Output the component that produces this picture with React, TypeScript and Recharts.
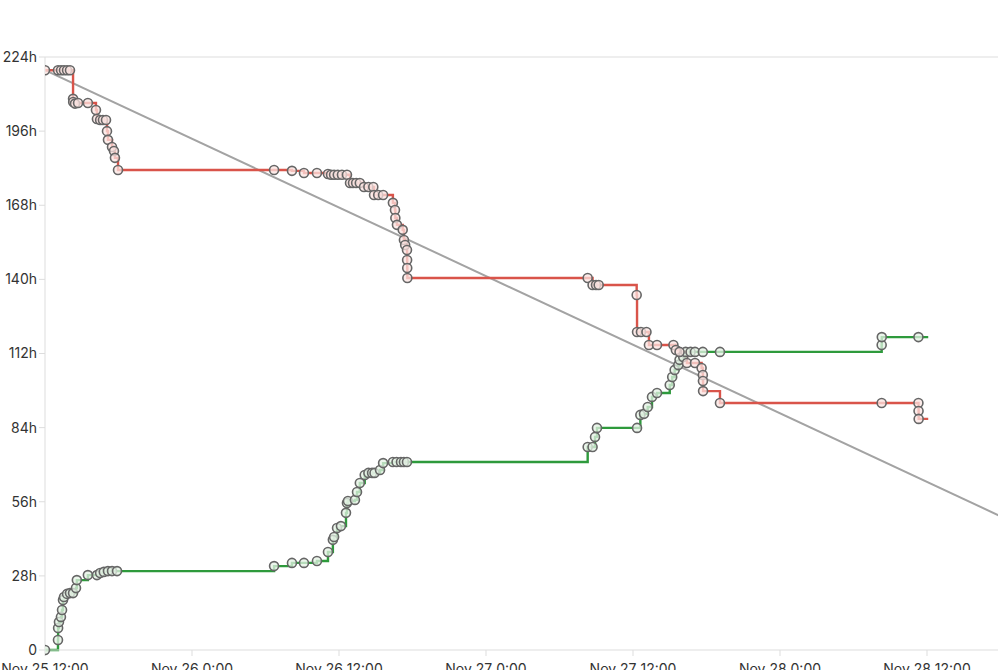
import React from 'react';
import { LineChart, Line, XAxis, YAxis, ReferenceLine } from 'recharts';

// hours since Nov 25 12:00
const remainingTimes = [
  0, 1.06, 1.31, 1.55, 1.8, 2.04, 2.29, 2.3, 2.45, 2.7, 3.5, 4.16, 4.24, 4.5, 4.73, 4.98, 5.06, 5.14, 5.47, 5.63, 5.71, 5.96,
  18.7, 20.16, 21.14, 22.2, 23.1, 23.35, 23.6, 23.9, 24.24, 24.65, 24.9, 25.14, 25.4, 25.7, 26.04, 26.4, 26.8, 26.86, 27.2, 27.6,
  28.4, 28.57, 28.6, 28.73, 29.2, 29.3, 29.4, 29.55, 29.56, 29.57, 29.58,
  44.3, 44.7, 44.98, 45.2, 48.3, 48.33, 48.65, 49.1, 49.3, 49.96, 51.3,
  51.5, 51.8, 52.4, 53.06, 53.6, 53.7, 53.71, 53.72, 55.1, 68.3, 71.3, 71.31, 71.32, 72.1,
];
const remainingHours = [
  219, 219, 219, 219, 219, 219, 208.2, 207, 206.4, 206.6, 206.6, 204, 200.6, 200.2, 200.2, 200.2, 196, 192.7, 190, 188.5, 185.9, 181.3,
  181.3, 181, 180.2, 180.2, 179.8, 179.5, 179.5, 179.5, 179.5, 179.5, 176.4, 176.4, 176.4, 176.4, 174.9, 174.9, 174.9, 171.9, 171.9, 171.9,
  168.9, 166.2, 163.2, 160.6, 158.7, 154.9, 153, 151.1, 147.3, 144.3, 140.5,
  140.5, 137.9, 137.9, 137.9, 134.1, 120.1, 120.1, 120.1, 115.2, 115.2, 115.2,
  113.3, 112.6, 108.4, 108.4, 106.5, 103.9, 101.6, 97.8, 93.3, 93.3, 93.3, 90.3, 87.3, 87.3,
];

const doneTimes = [
  0, 1.06, 1.07, 1.14, 1.3, 1.39, 1.47, 1.55, 1.8, 2.04, 2.29, 2.53, 2.6, 3.5, 4.24, 4.5, 4.8, 5.14, 5.47, 5.88,
  18.7, 20.16, 21.14, 22.2, 23.1, 23.5, 23.6, 23.84, 24.16, 24.57, 24.65, 24.73, 25.3, 25.47, 25.7, 26.1, 26.4, 26.7, 26.9, 27.35, 27.6,
  28.4, 28.7, 29.06, 29.3, 29.55,
  44.3, 44.7, 44.9, 45.06, 48.33, 48.6, 48.9, 49.2, 49.55, 49.96,
  51.0, 51.2, 51.4, 51.7, 51.8, 52.1, 52.3, 52.7, 53.06, 53.7, 55.1, 68.3, 68.31, 71.3, 72.1,
];
const doneHours = [
  0, 3.8, 8.3, 10.6, 12.5, 15.1, 18.9, 20, 21.2, 21.5, 21.5, 23.4, 26.4, 28.3, 28.3, 29.1, 29.5, 29.8, 29.8, 29.8,
  31.7, 32.9, 32.9, 33.6, 37, 41.6, 42.7, 46.1, 46.8, 51.8, 55.5, 56.3, 56.7, 59.7, 63.1, 66.1, 66.9, 66.9, 66.9, 68, 70.6,
  71, 71, 71, 71, 71,
  76.7, 76.7, 80.5, 83.9, 83.9, 88.8, 89.2, 91.8, 95.6, 97.1,
  100.1, 103.1, 105.8, 107.7, 109.6, 110.7, 112.6, 112.6, 112.6, 112.6, 112.6, 115.2, 118.2, 118.2, 118.2,
];

const idealTimes = [0, 101.4];
const idealHours = [219, 0];

const xTicks = [0, 12, 24, 36, 48, 60, 72];
const xTickLabels = ['Nov 25 12:00', 'Nov 26 0:00', 'Nov 26 12:00', 'Nov 27 0:00', 'Nov 27 12:00', 'Nov 28 0:00', 'Nov 28 12:00'];
const yTicks = [0, 28, 56, 84, 112, 140, 168, 196, 224];

const remaining = remainingTimes.map((t, i) => ({ t, v: remainingHours[i] }));
const done = doneTimes.map((t, i) => ({ t, v: doneHours[i] }));
const ideal = idealTimes.map((t, i) => ({ t, v: idealHours[i] }));

// last point is "now": line only, no marker
const makeDot = (fill: string, len: number) => (props: any) => {
  const { cx, cy, index } = props;
  if (index === len - 1) return <g key={`d-${index}`} />;
  return <circle key={`d-${index}`} cx={cx} cy={cy} r={4.5} fill={fill} fillOpacity={0.75} stroke="#666" strokeWidth={1.6} />;
};

const tickStyle = { fontFamily: 'Inter, sans-serif', fontSize: 14, fill: '#333' };

export default function App() {
  return (
    <div style={{ position: 'absolute', left: 0, top: 0, width: 998, height: 670, overflow: 'hidden', background: '#fff' }}>
      <LineChart width={1074} height={680} margin={{ top: 57, right: 0, bottom: 0, left: 0 }}>
        <XAxis
          type="number"
          dataKey="t"
          domain={[0, 84]}
          allowDataOverflow
          ticks={xTicks}
          tickFormatter={(v: number) => xTickLabels[xTicks.indexOf(v)] ?? ''}
          tick={tickStyle}
          tickMargin={8}
          stroke="#ddd"
          height={30}
        />
        <YAxis
          type="number"
          domain={[0, 224]}
          ticks={yTicks}
          tickFormatter={(v: number) => (v === 0 ? '0' : `${v}h`)}
          tick={tickStyle}
          stroke="#ddd"
          width={45}
        />
        <ReferenceLine y={224} stroke="#ddd" />
        <Line data={ideal} dataKey="v" type="linear" stroke="#a3a3a3" strokeWidth={2} dot={false} isAnimationActive={false} />
        <Line data={done} dataKey="v" type="stepAfter" stroke="#2e9a3c" strokeWidth={2.4} dot={makeDot('#e4f2e4', done.length)} isAnimationActive={false} />
        <Line data={remaining} dataKey="v" type="stepAfter" stroke="#d9544a" strokeWidth={2.4} dot={makeDot('#fbe4e1', remaining.length)} isAnimationActive={false} />
      </LineChart>
    </div>
  );
}
